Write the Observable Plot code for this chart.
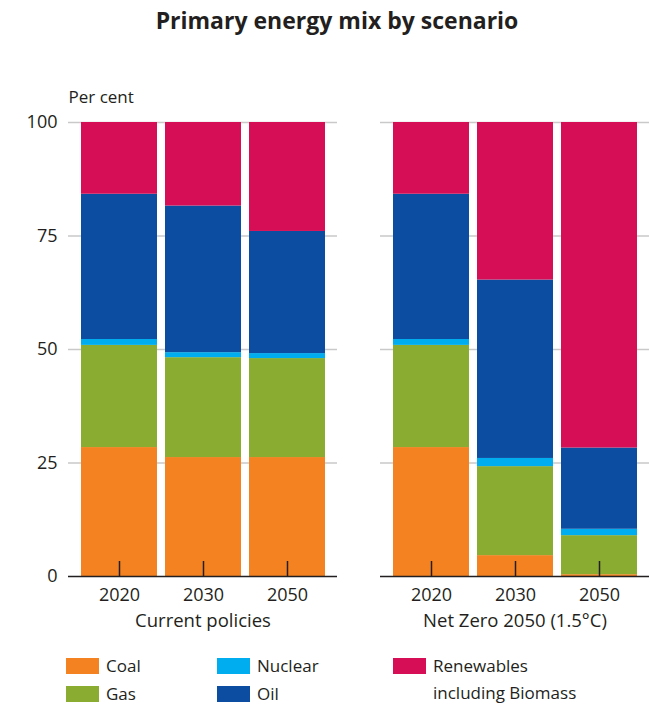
<!DOCTYPE html>
<html><head><meta charset="utf-8">
<script src="https://cdn.jsdelivr.net/npm/d3@7"></script>
<script src="https://cdn.jsdelivr.net/npm/@observablehq/plot@0.6"></script>
<style>
body{margin:0;background:#fff;font-family:"Open Sans",sans-serif;color:#231f20;}
#wrap{position:relative;width:650px;height:708px;overflow:hidden;}
#title{height:60px;box-sizing:border-box;padding-top:5px;padding-left:24px;text-align:center;font-weight:700;font-size:23px;line-height:30px;}
#chart svg{display:block;}
#legend{position:absolute;left:66px;top:652px;font-size:17px;line-height:27px;}
.col{position:absolute;top:0;white-space:nowrap;}
.item{display:flex;align-items:flex-start;height:28px;}
.sw{width:33px;height:16px;margin-top:6px;margin-right:7px;flex:none;}
</style></head><body>
<div id="wrap">
<div id="title">Primary energy mix by scenario</div>
<div id="chart"></div>
<div id="legend"></div>
</div>
<script>
const scenarios = ["Current policies", "Net Zero 2050 (1.5°C)"];
const years = ["2020", "2030", "2050"];
const sources = ["Coal", "Gas", "Nuclear", "Oil", "Renewables including Biomass"];
const colors = ["#f48220", "#8aac30", "#00aeef", "#0c4da2", "#d60e55"];
// values in order: CP2020, CP2030, CP2050, NZ2020, NZ2030, NZ2050
const coal       = [28.4, 26.2, 26.2, 28.4, 4.6, 0.4];
const gas        = [22.5, 22.0, 21.8, 22.5, 19.6, 8.6];
const nuclear    = [1.3, 1.1, 1.1, 1.3, 1.8, 1.4];
const oil        = [32.0, 32.3, 26.9, 32.0, 39.3, 17.9];
const renewables = [15.8, 18.4, 24.0, 15.8, 34.7, 71.7];
const yTicks = [0, 25, 50, 75, 100];

const series = [coal, gas, nuclear, oil, renewables];
const rows = [];
sources.forEach((s, si) => {
  scenarios.forEach((sc, ci) => {
    years.forEach((yr, yi) => {
      rows.push({scenario: sc, year: yr, source: s, value: series[si][ci * 3 + yi]});
    });
  });
});

const ink = "#231f20";
const chart = Plot.plot({
  width: 650,
  height: 580,
  marginTop: 62,
  marginBottom: 64,
  marginLeft: 68,
  marginRight: 0,
  style: {fontFamily: "Open Sans, sans-serif", color: ink, background: "#fff"},
  fx: {domain: scenarios, paddingInner: 0.1376, paddingOuter: 0, label: null},
  x: {domain: years, paddingInner: 0.1, paddingOuter: 0.14, label: null},
  y: {domain: [0, 100], label: null},
  color: {domain: sources, range: colors},
  marks: [
    Plot.ruleY(yTicks.filter(d => d > 0), {stroke: "#c9c9c9", strokeWidth: 1.5}),
    Plot.barY(rows, {fx: "scenario", x: "year", y: "value", fill: "source", order: sources}),
    Plot.ruleY([0], {stroke: ink, strokeWidth: 1.5}),
    Plot.axisY({ticks: yTicks, tickSize: 0, tickPadding: 11, fontSize: 18}),
    Plot.axisX({tickSize: -15, tickPadding: 27, fontSize: 18, stroke: ink, strokeWidth: 1.5}),
    Plot.axisFx({anchor: "bottom", tickSize: 0, tickPadding: 37, fontSize: 18.5, label: null}),
    Plot.text([{scenario: scenarios[0]}], {fx: "scenario", text: () => "Per cent", frameAnchor: "top-left", textAnchor: "start", dy: -32, fontSize: 17})
  ]
});
document.getElementById("chart").appendChild(chart);

const legend = document.getElementById("legend");
const cols = [[0, 1], [2, 3], [4]];
const colX = [0, 151, 327];
cols.forEach((idx, c) => {
  const col = document.createElement("div");
  col.className = "col";
  col.style.left = colX[c] + "px";
  idx.forEach(i => {
    const it = document.createElement("div");
    it.className = "item";
    const sw = document.createElement("span");
    sw.className = "sw";
    sw.style.background = colors[i];
    const lab = document.createElement("span");
    if (i === 4) { lab.innerHTML = "Renewables<br>including Biomass"; }
    else lab.textContent = sources[i];
    it.appendChild(sw); it.appendChild(lab);
    col.appendChild(it);
  });
  legend.appendChild(col);
});
</script>
</body></html>
